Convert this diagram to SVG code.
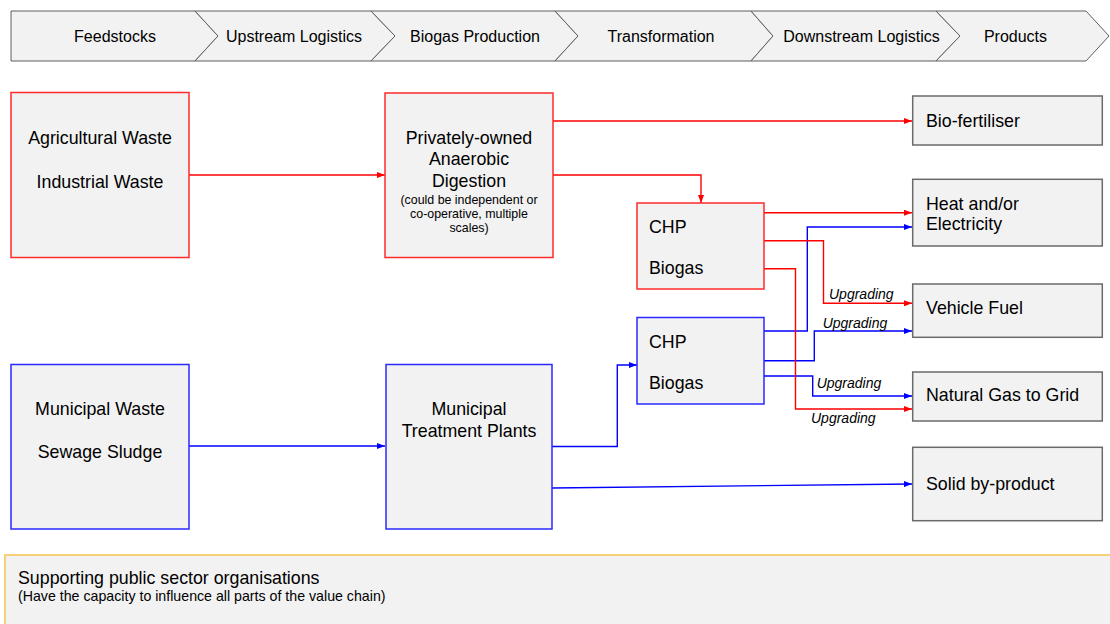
<svg xmlns="http://www.w3.org/2000/svg" width="1110" height="624" viewBox="0 0 1110 624">
  <defs>
    <style>
      .t { font-family: "Liberation Sans", Arial, sans-serif; fill: #000; }
      .hdr { fill: #f2f2f2; stroke: #5f5f5f; stroke-width: 1; }
      .hdr-t { font-size: 16px; text-anchor: middle; }
      .big { font-size: 17.8px; }
      .mid { text-anchor: middle; }
      .small { font-size: 12.4px; text-anchor: middle; }
      .up { font-size: 14px; font-style: italic; }
      .box-red { fill: #f2f2f2; stroke: #ff2a2a; stroke-width: 1.5; }
      .box-blue { fill: #f2f2f2; stroke: #2a2aff; stroke-width: 1.5; }
      .box-prod { fill: #f2f2f2; stroke: #6a6a6a; stroke-width: 1.5; }
      .ln-red { fill: none; stroke: #ff0000; stroke-width: 1.4; marker-end: url(#arrRed); }
      .ln-blue { fill: none; stroke: #0000ff; stroke-width: 1.4; marker-end: url(#arrBlue); }
    </style>
    <marker id="arrRed" viewBox="0 0 8 6" refX="8" refY="3" markerWidth="8" markerHeight="6" markerUnits="userSpaceOnUse" orient="auto">
      <path d="M0,0 L8,3 L0,6 z" fill="#ff0000"/>
    </marker>
    <marker id="arrBlue" viewBox="0 0 8 6" refX="8" refY="3" markerWidth="8" markerHeight="6" markerUnits="userSpaceOnUse" orient="auto">
      <path d="M0,0 L8,3 L0,6 z" fill="#0000ff"/>
    </marker>
  </defs>

  <rect width="1110" height="624" fill="#ffffff"/>

  <!-- value chain header -->
  <g id="stage-feedstocks">
    <polygon class="hdr" points="11,11 195,11 218,36 195,61 11,61"/>
    <text class="t hdr-t" x="115" y="42">Feedstocks</text>
  </g>
  <g id="stage-upstream">
    <polygon class="hdr" points="195,11 371,11 395,36 371,61 195,61 218,36"/>
    <text class="t hdr-t" x="294" y="42">Upstream Logistics</text>
  </g>
  <g id="stage-production">
    <polygon class="hdr" points="371,11 555,11 578,36 555,61 371,61 395,36"/>
    <text class="t hdr-t" x="475" y="42">Biogas Production</text>
  </g>
  <g id="stage-transformation">
    <polygon class="hdr" points="555,11 751,11 773,36 751,61 555,61 578,36"/>
    <text class="t hdr-t" x="661" y="42">Transformation</text>
  </g>
  <g id="stage-downstream">
    <polygon class="hdr" points="751,11 936,11 960,36 936,61 751,61 773,36"/>
    <text class="t hdr-t" x="861.5" y="42">Downstream Logistics</text>
  </g>
  <g id="stage-products">
    <polygon class="hdr" points="936,11 1086,11 1109,36 1086,61 936,61 960,36"/>
    <text class="t hdr-t" x="1015.5" y="42">Products</text>
  </g>

  <!-- supporting organisations band -->
  <g id="support">
    <rect x="5" y="555" width="1120" height="100" fill="#f2f2f2" stroke="#f5d27a" stroke-width="2"/>
    <text class="t big" x="18" y="584">Supporting public sector organisations</text>
    <text class="t" x="18" y="601" font-size="14.2">(Have the capacity to influence all parts of the value chain)</text>
  </g>

  <!-- connectors -->
  <g id="connectors">
    <!-- municipal route -->
    <path class="ln-blue" d="M189,446 H385"/>
    <path class="ln-blue" d="M552,446.5 H617.3 V365 H637"/>
    <path class="ln-blue" d="M552,488 L912,484"/>
    <path class="ln-blue" d="M764,331 H807.3 V227 H912"/>
    <path class="ln-blue" d="M764,360.7 H814.3 V331 H912"/>
    <path class="ln-blue" d="M764,376 H812.7 V396 H912"/>
    <!-- private route -->
    <path class="ln-red" d="M189,175 H385"/>
    <path class="ln-red" d="M553,121 H912"/>
    <path class="ln-red" d="M553,175 H701 V203"/>
    <path class="ln-red" d="M764,212.7 H912"/>
    <path class="ln-red" d="M762.5,240.7 H823.5 V303.3 H912"/>
    <path class="ln-red" d="M764,268.7 H795.5 V409 H912"/>
    <text class="t up" x="829" y="299">Upgrading</text>
    <text class="t up" x="822.7" y="328">Upgrading</text>
    <text class="t up" x="816.7" y="388">Upgrading</text>
    <text class="t up" x="811" y="423">Upgrading</text>
  </g>

  <!-- feedstock sources -->
  <g id="node-agri">
    <rect class="box-red" x="11" y="92.5" width="178" height="165"/>
    <text class="t big mid" x="100" y="143.5">Agricultural Waste</text>
    <text class="t big mid" x="100" y="187.5">Industrial Waste</text>
  </g>
  <g id="node-municipal">
    <rect class="box-blue" x="11" y="364.5" width="178" height="164.5"/>
    <text class="t big mid" x="100" y="414.5">Municipal Waste</text>
    <text class="t big mid" x="100" y="458">Sewage Sludge</text>
  </g>

  <!-- production -->
  <g id="node-ad">
    <rect class="box-red" x="385" y="93" width="168" height="164.5"/>
    <text class="t big mid" x="469" y="143.5">Privately-owned</text>
    <text class="t big mid" x="469" y="165">Anaerobic</text>
    <text class="t big mid" x="469" y="186.5">Digestion</text>
    <text class="t small" x="469" y="203.5">(could be independent or</text>
    <text class="t small" x="469" y="218">co-operative, multiple</text>
    <text class="t small" x="469" y="232">scales)</text>
  </g>
  <g id="node-treatment">
    <rect class="box-blue" x="386" y="364.5" width="166" height="164.5"/>
    <text class="t big mid" x="469" y="415">Municipal</text>
    <text class="t big mid" x="469" y="437">Treatment Plants</text>
  </g>

  <!-- transformation -->
  <g id="node-chp-private">
    <rect class="box-red" x="637" y="203" width="127" height="86"/>
    <text class="t big" x="649" y="233">CHP</text>
    <text class="t big" x="649" y="274">Biogas</text>
  </g>
  <g id="node-chp-municipal">
    <rect class="box-blue" x="637" y="317.5" width="127" height="86.5"/>
    <text class="t big" x="649" y="347.5">CHP</text>
    <text class="t big" x="649" y="389">Biogas</text>
  </g>

  <!-- products -->
  <g id="node-biofertiliser">
    <rect class="box-prod" x="912.7" y="96" width="189.6" height="49"/>
    <text class="t big" x="926" y="126.5">Bio-fertiliser</text>
  </g>
  <g id="node-heat">
    <rect class="box-prod" x="912.7" y="179.3" width="189.6" height="66.7"/>
    <text class="t big" x="926" y="209.5">Heat and/or</text>
    <text class="t big" x="926" y="229.5">Electricity</text>
  </g>
  <g id="node-vehicle">
    <rect class="box-prod" x="912.7" y="284" width="189.6" height="53.3"/>
    <text class="t big" x="926" y="313.5">Vehicle Fuel</text>
  </g>
  <g id="node-grid">
    <rect class="box-prod" x="912.7" y="372" width="189.6" height="49"/>
    <text class="t big" x="926" y="401">Natural Gas to Grid</text>
  </g>
  <g id="node-solid">
    <rect class="box-prod" x="912.7" y="447.3" width="189.6" height="73.4"/>
    <text class="t big" x="926" y="489.5">Solid by-product</text>
  </g>
</svg>
